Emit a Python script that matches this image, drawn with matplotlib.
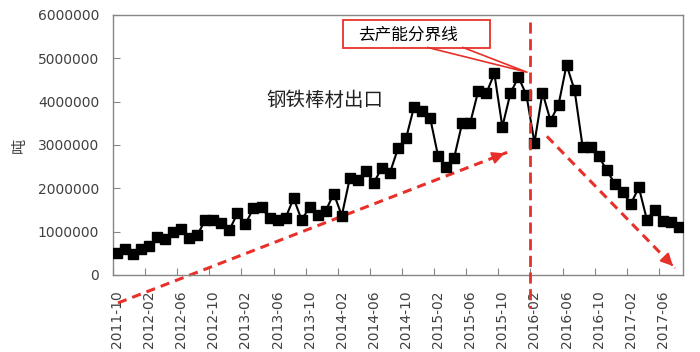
import numpy as np
import matplotlib
matplotlib.use('Agg')
from matplotlib import pyplot as plt
from matplotlib.patches import Rectangle

# 钢铁棒材出口, monthly, 2011-10 .. 2017-08 (吨)
exports = [510000, 590000, 480000, 590000, 670000, 870000, 820000, 1000000,
           1050000, 860000, 920000, 1270000, 1270000, 1200000, 1040000, 1420000,
           1170000, 1550000, 1560000, 1310000, 1270000, 1320000, 1770000, 1270000,
           1570000, 1380000, 1480000, 1880000, 1370000, 2230000, 2200000, 2400000,
           2130000, 2480000, 2360000, 2920000, 3150000, 3880000, 3780000, 3630000,
           2740000, 2500000, 2710000, 3510000, 3510000, 4250000, 4190000, 4650000,
           3420000, 4190000, 4570000, 4150000, 3050000, 4210000, 3560000, 3930000,
           4850000, 4260000, 2960000, 2960000, 2740000, 2420000, 2110000, 1920000,
           1640000, 2020000, 1280000, 1510000, 1250000, 1230000, 1110000]
tick_labels = ['2011-10', '2012-02', '2012-06', '2012-10', '2013-02', '2013-06',
               '2013-10', '2014-02', '2014-06', '2014-10', '2015-02', '2015-06',
               '2015-10', '2016-02', '2016-06', '2016-10', '2017-02', '2017-06']
y_ticks = [0, 1000000, 2000000, 3000000, 4000000, 5000000, 6000000]

red = '#e8302a'
grey = '#868686'
cjk = 'Noto Sans CJK SC'

fig = plt.figure(figsize=(7, 3.52), dpi=100)
ax = fig.add_axes([0.1614, 0.2188, 0.8143, 0.7386])

x = np.arange(len(exports))
ax.plot(x, exports, color='black', lw=1.5, marker='s', ms=7.5, zorder=3)

ax.set_xlim(-0.5, len(exports) - 0.5)
ax.set_ylim(0, 6000000)
ax.set_yticks(y_ticks)
ax.set_yticklabels([str(v) for v in y_ticks])

# ticks between categories, labels on the category
ax.set_xticks(np.arange(-0.5, len(exports), 4))
ax.set_xticklabels([])
ax.set_xticks(np.arange(0, len(exports), 4), minor=True)
ax.set_xticklabels(tick_labels, minor=True, rotation=90)
ax.tick_params(axis='x', which='major', direction='in', length=5, color=grey)
ax.tick_params(axis='x', which='minor', length=0, pad=11, labelsize=10, labelcolor='#404040')
ax.tick_params(axis='y', direction='in', length=5, color=grey, pad=10,
               labelsize=10, labelcolor='#404040')
for s in ax.spines.values():
    s.set_color(grey)
    s.set_linewidth(1)

ax.set_ylabel('吨', family=cjk, fontsize=11, color='#404040', labelpad=7)

ax.text(25.9, 4030000, '钢铁棒材出口', family=cjk, fontsize=14, color='#222222',
        ha='center', va='center')

# 分界线
ax.plot([51.5, 51.5], [5830000, -760000], color=red, lw=2, ls=(0, (4, 2)),
        clip_on=False, zorder=4)

# box with wedge
ax.add_patch(Rectangle((28.1, 5230000), 18.35, 645000, fill=False, ec=red,
                       lw=1.3, clip_on=False, zorder=5))
ax.plot([38.7, 51.06, 43.1], [5250000, 4680000, 5250000], color=red, lw=1.2,
        clip_on=False, zorder=5)
ax.text(36.24, 5540000, '去产能分界线', family=cjk, fontsize=12, color='black',
        ha='center', va='center', zorder=6)

# trend arrows
def dashed_arrow(p0, p1):
    ax.plot([p0[0], p1[0]], [p0[1], p1[1]], color=red, lw=2.2, ls=(0, (3, 2)),
            clip_on=False, zorder=2)
    ax.annotate('', xy=p1, xytext=(p1[0] - (p1[0] - p0[0]) * 0.04,
                                    p1[1] - (p1[1] - p0[1]) * 0.04),
                arrowprops=dict(arrowstyle='-|>', color=red, lw=1.5,
                                mutation_scale=18),
                annotation_clip=False, zorder=2)

dashed_arrow((0.12, -645000), (48.6, 2830000))
dashed_arrow((53.55, 3200000), (69.5, 160000))

fig.savefig('out.png', dpi=100)
